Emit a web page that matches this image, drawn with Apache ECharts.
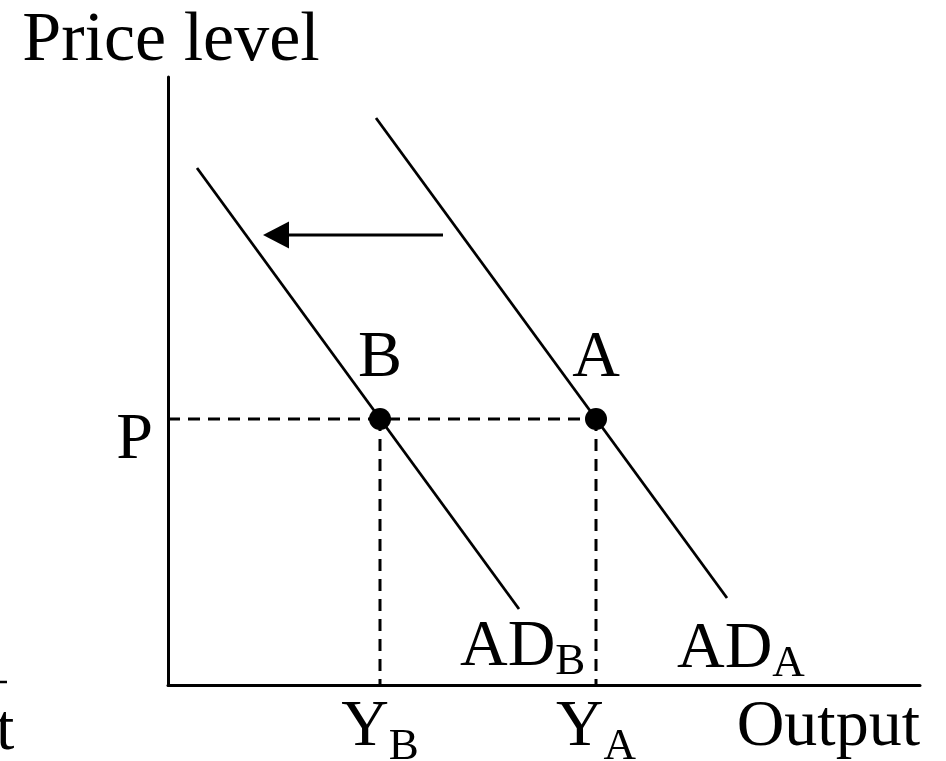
<!DOCTYPE html>
<html>
<head>
<meta charset="utf-8">
<script src="https://cdn.jsdelivr.net/npm/echarts@6/dist/echarts.min.js"></script>
<style>
html, body { margin: 0; padding: 0; background: #fff; }
#chart { width: 946px; height: 761px; }
</style>
</head>
<body>
<div id="chart"></div>
<script>
// coordinates are in output / price units, origin at the axis corner
var adB = [[29, 517], [351, 76]];
var adA = [[208, 567], [559, 87]];
var pointB = [212, 266];
var pointA = [428, 266];
var priceP = 266;
var shiftLine = [[275, 450], [108, 450]];
var shiftHead = [108, 450];
var xTicks = [212, 428, 752];
var xTickText = ['{m|Y}{s|B}', '{m|Y}{s|A}', '{m|Output}'];

var serif = 'Liberation Serif';
var chart = echarts.init(document.getElementById('chart'));

// subscript sits lower than the main text baseline
function richSub(padTop) {
	return {
		m : { fontFamily : serif, fontSize : 66, lineHeight : 66, color : '#000' },
		s : { fontFamily : serif, fontSize : 45, lineHeight : 34, verticalAlign : 'top',
			padding : [ padTop, 0, 0, 0 ], color : '#000' }
	};
}

function dashed(from, to) {
	return {
		type : 'line',
		data : [ from, to ],
		showSymbol : false,
		silent : true,
		lineStyle : { color : '#000', width : 3, type : [ 12, 8 ] },
		z : 1
	};
}

function adLine(name, pts, sub, offset) {
	return {
		type : 'line',
		name : name,
		data : pts,
		showSymbol : false,
		silent : true,
		lineStyle : { color : '#000', width : 2.8 },
		endLabel : {
			show : true,
			formatter : '{m|AD}{s|' + sub + '}',
			align : 'left',
			verticalAlign : 'middle',
			distance : 0,
			offset : offset,
			color : '#000',
			rich : richSub(25)
		},
		z : 2
	};
}

var option = {
	animation : false,
	backgroundColor : '#fff',
	grid : { left : 168, right : 26, top : 77, bottom : 76, containLabel : false, outerBoundsMode : 'none' },
	xAxis : {
		type : 'value',
		min : 0,
		max : 752,
		axisLine : { show : true, lineStyle : { color : '#000', width : 3 } },
		axisTick : { show : false },
		splitLine : { show : false },
		axisLabel : {
			customValues : xTicks,
			margin : 10,
			alignMaxLabel : 'right',
			color : '#000',
			formatter : function(v) {
				return xTickText[xTicks.indexOf(v)];
			},
			rich : richSub(30)
		}
	},
	yAxis : {
		type : 'value',
		min : 0,
		max : 608,
		name : 'Price level',
		nameLocation : 'end',
		nameGap : 0,
		nameTextStyle : { fontFamily : serif, fontSize : 70, color : '#000', padding : [ 0, 0, 0, 6 ] },
		axisLine : { show : true, lineStyle : { color : '#000', width : 3 } },
		axisTick : { show : false },
		splitLine : { show : false },
		axisLabel : {
			customValues : [ priceP ],
			formatter : function() { return 'P'; },
			margin : 15,
			verticalAlign : 'top',
			lineHeight : 44,
			fontFamily : serif,
			fontSize : 66,
			color : '#000'
		}
	},
	graphic : [ {
		type : 'text',
		left : -4,
		top : 699,
		style : { text : 't', font : '66px "Liberation Serif"', fill : '#000' }
	}, {
		type : 'line',
		shape : { x1 : 0, y1 : 682, x2 : 7, y2 : 682 },
		style : { stroke : '#000', lineWidth : 2.5 }
	} ],
	series : [
		dashed([ 0, priceP ], pointA),
		dashed(pointB, [ pointB[0], 0 ]),
		dashed(pointA, [ pointA[0], 0 ]),
		adLine('ADB', adB, 'B', [ -59, 39 ]),
		adLine('ADA', adA, 'A', [ -50, 52 ]),
		{
			type : 'line',
			data : shiftLine,
			showSymbol : false,
			silent : true,
			lineStyle : { color : '#000', width : 3 },
			z : 2
		},
		{
			type : 'scatter',
			data : [ shiftHead ],
			symbol : 'triangle',
			symbolRotate : 90,
			symbolSize : [ 27, 26 ],
			itemStyle : { color : '#000', opacity : 1 },
			silent : true,
			z : 3
		},
		{
			type : 'scatter',
			data : [ { name : 'B', value : pointB }, { name : 'A', value : pointA } ],
			symbolSize : 22,
			itemStyle : { color : '#000', opacity : 1 },
			silent : true,
			label : {
				show : true,
				position : 'top',
				distance : 16,
				formatter : '{b}',
				fontFamily : serif,
				fontSize : 66,
				color : '#000'
			},
			z : 3
		}
	]
};

chart.setOption(option);
</script>
</body>
</html>
